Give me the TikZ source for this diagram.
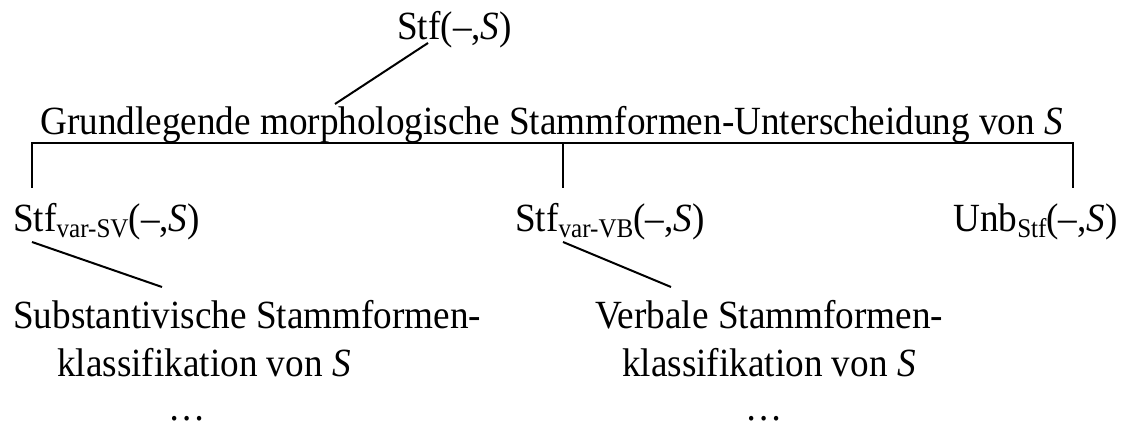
\documentclass[tikz,border=0pt]{standalone}
\usepackage{fontspec}
\setmainfont{Liberation Serif}[FakeStretch=0.93]
\newcommand{\subtxt}[1]{\raisebox{-6pt}{\fontsize{27}{30}\selectfont #1}}
\begin{document}
\begin{tikzpicture}[x=1pt,y=-1pt,
  lbl/.style={inner sep=0pt, anchor=base west, font=\fontsize{40}{48}\selectfont},
  edge/.style={line width=2pt}]
\useasboundingbox (0,0) rectangle (1126,430);
\node[lbl] (top) at (397,40) {Stf(–,\textit{S})};
\node[lbl] (mid) at (40,135) {Grundlegende morphologische Stammformen-Unterscheidung von \textit{S}};
\node[lbl] (sv) at (13,232) {Stf\subtxt{var-SV}(–,\textit{S})};
\node[lbl] (vb) at (515,232) {Stf\subtxt{var-VB}(–,\textit{S})};
\node[lbl] (unb) at (953,232) {Unb\subtxt{Stf}(–,\textit{S})};
\node[lbl] (subst) at (13,328) {Substantivische Stammformen-};
\node[lbl] (subst2) at (57,376) {klassifikation von \textit{S}};
\node[lbl] (verb) at (595,328) {Verbale Stammformen-};
\node[lbl] (verb2) at (622,376) {klassifikation von \textit{S}};
\node[lbl] (dots1) at (168,420) {…};
\node[lbl] (dots2) at (745,420) {…};
% connectors
\coordinate (topA) at (428,43);
\coordinate (midA) at (335,104);
\draw[edge] (topA) -- (midA);
\coordinate (brL) at (32,188);
\coordinate (brM) at (563,188);
\coordinate (brR) at (1073,188);
\draw[edge] (brL) |- (brR |- 0,143) -- (brR);
\draw[edge] (brM) -- (brM |- 0,143);
\coordinate (svA) at (32,242);
\coordinate (substA) at (162,287);
\draw[edge] (svA) -- (substA);
\coordinate (vbA) at (563,242);
\coordinate (verbA) at (671,287);
\draw[edge] (vbA) -- (verbA);
\end{tikzpicture}
\end{document}
